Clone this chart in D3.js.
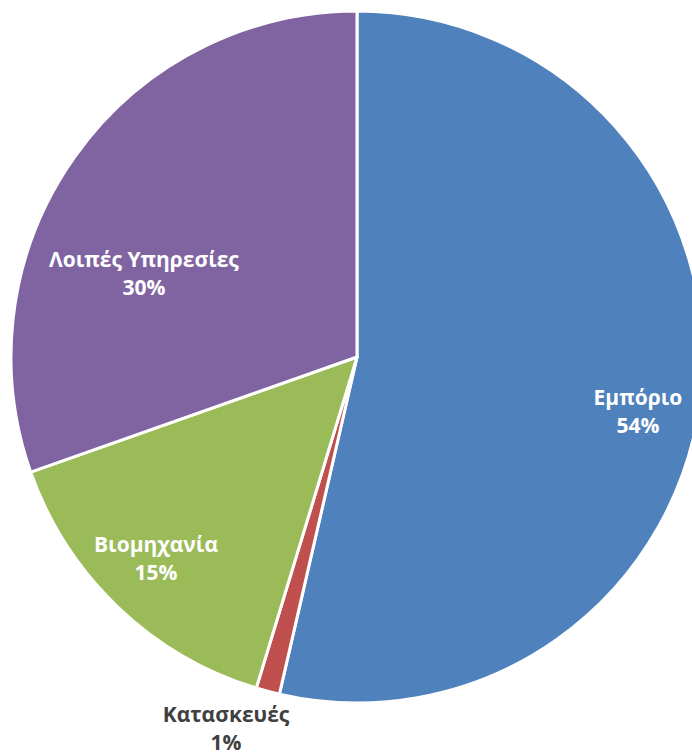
<!DOCTYPE html>
<html>
<head>
<meta charset="utf-8">
<script src="https://cdn.jsdelivr.net/npm/d3@7"></script>
<style>
  html, body { margin: 0; padding: 0; background: #ffffff; }
  svg { display: block; }
  .lbl { font-family: "Open Sans", sans-serif; font-weight: bold; font-size: 21px; }
</style>
</head>
<body>
<div id="chart"></div>
<script>
// Share of enterprises by sector (%)
const categories = ["Εμπόριο", "Κατασκευές", "Βιομηχανία", "Λοιπές Υπηρεσίες"];
const values = [53.6, 1.1, 14.9, 30.4];
const colors = ["#4F81BD", "#C0504D", "#9BBB59", "#8064A2"];

// Where each label sits: polar angle (deg, clockwise from top) and radius as a fraction of the pie radius
const labelPlacement = {
  "Εμπόριο":          { angle: 101.3, r: 0.828, inside: true },
  "Κατασκευές":       { angle: 199.35, r: 1.1426, inside: false },
  "Βιομηχανία":       { angle: 224.7, r: 0.826, inside: true },
  "Λοιπές Υπηρεσίες": { angle: 291.1, r: 0.660, inside: true }
};

const width = 692, height = 755;
const cx = 357, cy = 357, radius = 346;

const svg = d3.select("#chart").append("svg")
  .attr("width", width).attr("height", height);

const g = svg.append("g").attr("transform", `translate(${cx},${cy})`);

const data = categories.map((c, i) => ({ name: c, value: values[i], color: colors[i] }));

const pie = d3.pie().sort(null).value(d => d.value);
const arc = d3.arc().innerRadius(0).outerRadius(radius);

g.selectAll("path.slice")
  .data(pie(data))
  .join("path")
  .attr("class", "slice")
  .attr("d", arc)
  .attr("fill", d => d.data.color)
  .attr("stroke", "#ffffff")
  .attr("stroke-width", 3)
  .attr("stroke-linejoin", "round");

const total = d3.sum(values);
const pct = v => Math.round(v / total * 100) + "%";

const labels = g.selectAll("text.lbl")
  .data(data)
  .join("text")
  .attr("class", "lbl")
  .attr("text-anchor", "middle")
  .attr("fill", d => labelPlacement[d.name].inside ? "#ffffff" : "#404040")
  .attr("transform", d => {
    const p = labelPlacement[d.name];
    const a = p.angle * Math.PI / 180;
    const x = Math.sin(a) * radius * p.r;
    const y = -Math.cos(a) * radius * p.r;
    return `translate(${x},${y})`;
  });

labels.append("tspan").attr("x", 0).attr("y", -8).text(d => d.name);
labels.append("tspan").attr("x", 0).attr("y", 20).text(d => pct(d.value));
</script>
</body>
</html>
